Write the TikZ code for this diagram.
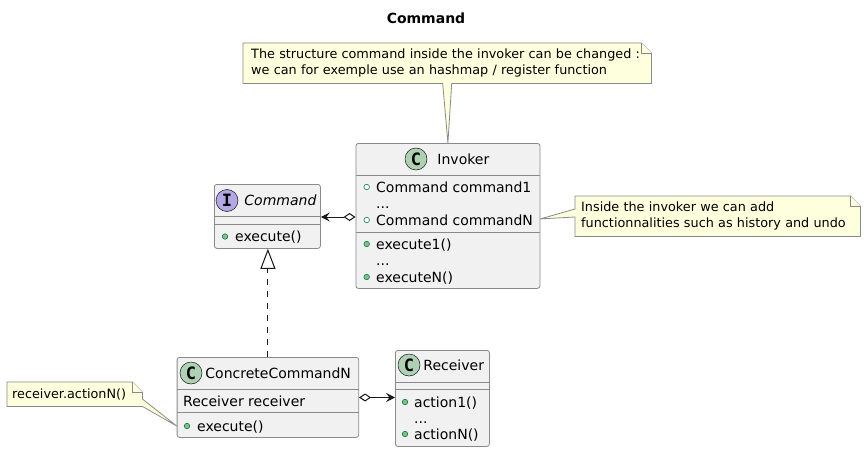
\documentclass[tikz,border=0pt]{standalone}
\usepackage{fontspec}
\setmainfont{DejaVu Sans}
\newfontfamily\spotfont{DejaVu Sans Mono}
\usetikzlibrary{arrows.meta,positioning,calc,backgrounds}

\definecolor{umlline}{HTML}{181818}
\definecolor{umlborder}{HTML}{8A8A8A}
\definecolor{umlfill}{HTML}{F1F1F1}
\definecolor{notefill}{HTML}{FEFFDD}
\definecolor{spotc}{HTML}{ADD1B2}
\definecolor{spoti}{HTML}{B4A7E5}
\definecolor{visline}{HTML}{038048}
\definecolor{visfill}{HTML}{84BE84}

\tikzset{
  classbox/.style={draw=umlborder, fill=umlfill, line width=0.8pt, rounded corners=2.5pt, inner sep=0pt, anchor=north west},
  sepline/.style={draw=umlborder, line width=0.8pt},
  member/.style={anchor=west, inner sep=0pt, text height=11pt, text depth=1pt, font=\fontsize{14}{16}\selectfont},
  spot/.style={circle, draw=umlline, line width=0.5pt, minimum size=22pt, inner sep=0pt, font=\spotfont\bfseries\fontsize{17}{17}\selectfont},
  pubfield/.style={circle, draw=visline, line width=0.6pt, fill=white, minimum size=5.5pt, inner sep=0pt},
  pubmethod/.style={pubfield, fill=visfill},
  notebox/.style={anchor=north west, inner ysep=0pt, align=left, font=\fontsize{12.8}{15.5}\selectfont},
  noteline/.style={draw=umlborder, fill=notefill, line width=0.8pt},
  link/.style={draw=umlline, line width=1pt}
}

\begin{document}
\begin{tikzpicture}[x=1pt, y=-1pt]
\useasboundingbox (0,0) rectangle (864,452);

\node[font=\bfseries\fontsize{14}{16}\selectfont] (title) at (426,18) {Command};

% classes
\node[classbox, minimum width=184pt, minimum height=145pt] (invoker) at (355.5,143) {};
\draw[sepline] ($(invoker.north west)+(0,32)$) -- ($(invoker.north east)+(0,32)$);
\draw[sepline] ($(invoker.north west)+(0,89.7)$) -- ($(invoker.north east)+(0,89.7)$);
\node[spot, fill=spotc] (invokerspot) at (416,159) {C};
\node[member, right=10pt of invokerspot] (invokername) {Invoker};
\node[pubfield] (invokerf1) at (366.7,187) {};
\node[member] (invokerf1txt) at (376,187) {Command command1};
\node[member] (invokerfdots) at (376,203.5) {...};
\node[pubfield] (invokerf2) at (366.7,220) {};
\node[member] (invokerf2txt) at (376,220) {Command commandN};
\node[pubmethod] (invokerm1) at (366.7,244) {};
\node[member] (invokerm1txt) at (376,244) {execute1()};
\node[member] (invokermdots) at (376,260.5) {...};
\node[pubmethod] (invokerm2) at (366.7,277) {};
\node[member] (invokerm2txt) at (376,277) {executeN()};

\node[classbox, minimum width=106pt, minimum height=64pt] (command) at (214,184) {};
\draw[sepline] ($(command.north west)+(0,32)$) -- ($(command.north east)+(0,32)$);
\draw[sepline] ($(command.north west)+(0,40)$) -- ($(command.north east)+(0,40)$);
\node[spot, fill=spoti] (commandspot) at (227,200.5) {I};
\node[member, right=6pt of commandspot, font=\fontsize{14}{16}\selectfont\itshape] (commandname) {Command};
\node[pubmethod] (commandm1) at (225,236.5) {};
\node[member] (commandm1txt) at (235,236.5) {execute()};

\node[classbox, minimum width=181.6pt, minimum height=80pt] (concrete) at (176.7,357) {};
\draw[sepline] ($(concrete.north west)+(0,32)$) -- ($(concrete.north east)+(0,32)$);
\draw[sepline] ($(concrete.north west)+(0,55.7)$) -- ($(concrete.north east)+(0,55.7)$);
\node[spot, fill=spotc] (concretespot) at (191,373) {C};
\node[member, right=3pt of concretespot] (concretename) {ConcreteCommandN};
\node[member] (concretef1txt) at (183,401) {Receiver receiver};
\node[pubmethod] (concretem1) at (187,426) {};
\node[member] (concretem1txt) at (197,426) {execute()};

\node[classbox, minimum width=94pt, minimum height=96pt] (receiver) at (395,350) {};
\draw[sepline] ($(receiver.north west)+(0,32)$) -- ($(receiver.north east)+(0,32)$);
\draw[sepline] ($(receiver.north west)+(0,39)$) -- ($(receiver.north east)+(0,39)$);
\node[spot, fill=spotc] (receiverspot) at (409,365) {C};
\node[member, right=3pt of receiverspot] (receivername) {Receiver};
\node[pubmethod] (receiverm1) at (405,402) {};
\node[member] (receiverm1txt) at (414,402) {action1()};
\node[member] (receivermdots) at (414,418) {...};
\node[pubmethod] (receiverm2) at (405,434) {};
\node[member] (receiverm2txt) at (414,434) {actionN()};

% relations
\draw[link, {Diamond[open, fill=white, length=12pt, width=8pt]}-{Stealth[length=9pt, width=9pt, inset=3.5pt]}]
  (invoker.west |- 0,217) -- (command.east |- 0,217);
\draw[link, dash pattern=on 6pt off 6pt, -{Triangle[open, fill=white, length=20pt, width=15pt]}]
  (concrete.north) -- (concrete.north |- command.south);
\draw[link, {Diamond[open, fill=white, length=12pt, width=8pt]}-{Stealth[length=9pt, width=9pt, inset=3.5pt]}]
  (concrete.east |- 0,397.5) -- (receiver.west |- 0,397.5);

% notes
\node[notebox, minimum width=408pt, minimum height=40pt, text width=392pt, inner xsep=8pt] (topnote) at (243,43)
  {\mbox{The structure command inside the invoker can be changed :}\\\mbox{we can for exemple use an hashmap / register function}};
\node[notebox, minimum width=285pt, minimum height=40pt, text width=273pt, inner xsep=6pt] (rightnote) at (575,196)
  {Inside the invoker we can add\\functionnalities such as history and undo};
\node[notebox, minimum width=135pt, minimum height=24pt, text width=125pt, inner xsep=5pt] (leftnote) at (7,382)
  {receiver.actionN()};

\begin{scope}[on background layer]
\draw[noteline] (topnote.north west) -- ($(topnote.north east)+(-10,0)$) -- ($(topnote.north east)+(0,10)$)
  -- (topnote.south east) -- ($(topnote.south)+(4.5,0)$) -- (invoker.north) -- ($(topnote.south)+(-4.5,0)$)
  -- (topnote.south west) -- cycle;
\draw[noteline] ($(topnote.north east)+(-10,0)$) -- ($(topnote.north east)+(-10,10)$) -- ($(topnote.north east)+(0,10)$);

\draw[noteline] (rightnote.north west) -- ($(rightnote.north east)+(-10,0)$) -- ($(rightnote.north east)+(0,10)$)
  -- (rightnote.south east) -- (rightnote.south west) -- ($(rightnote.north west)+(0,21)$)
  -- ($(invoker.east)+(0,3)$) -- ($(rightnote.north west)+(0,13)$) -- cycle;
\draw[noteline] ($(rightnote.north east)+(-10,0)$) -- ($(rightnote.north east)+(-10,10)$) -- ($(rightnote.north east)+(0,10)$);

\draw[noteline] (leftnote.north west) -- ($(leftnote.north east)+(-10,0)$) -- ($(leftnote.north east)+(0,10)$)
  -- ($(leftnote.north east)+(0,17)$) -- (concrete.west |- concretem1) -- (leftnote.south east)
  -- (leftnote.south west) -- cycle;
\draw[noteline] ($(leftnote.north east)+(-10,0)$) -- ($(leftnote.north east)+(-10,10)$) -- ($(leftnote.north east)+(0,10)$);
\end{scope}
\end{tikzpicture}
\end{document}
